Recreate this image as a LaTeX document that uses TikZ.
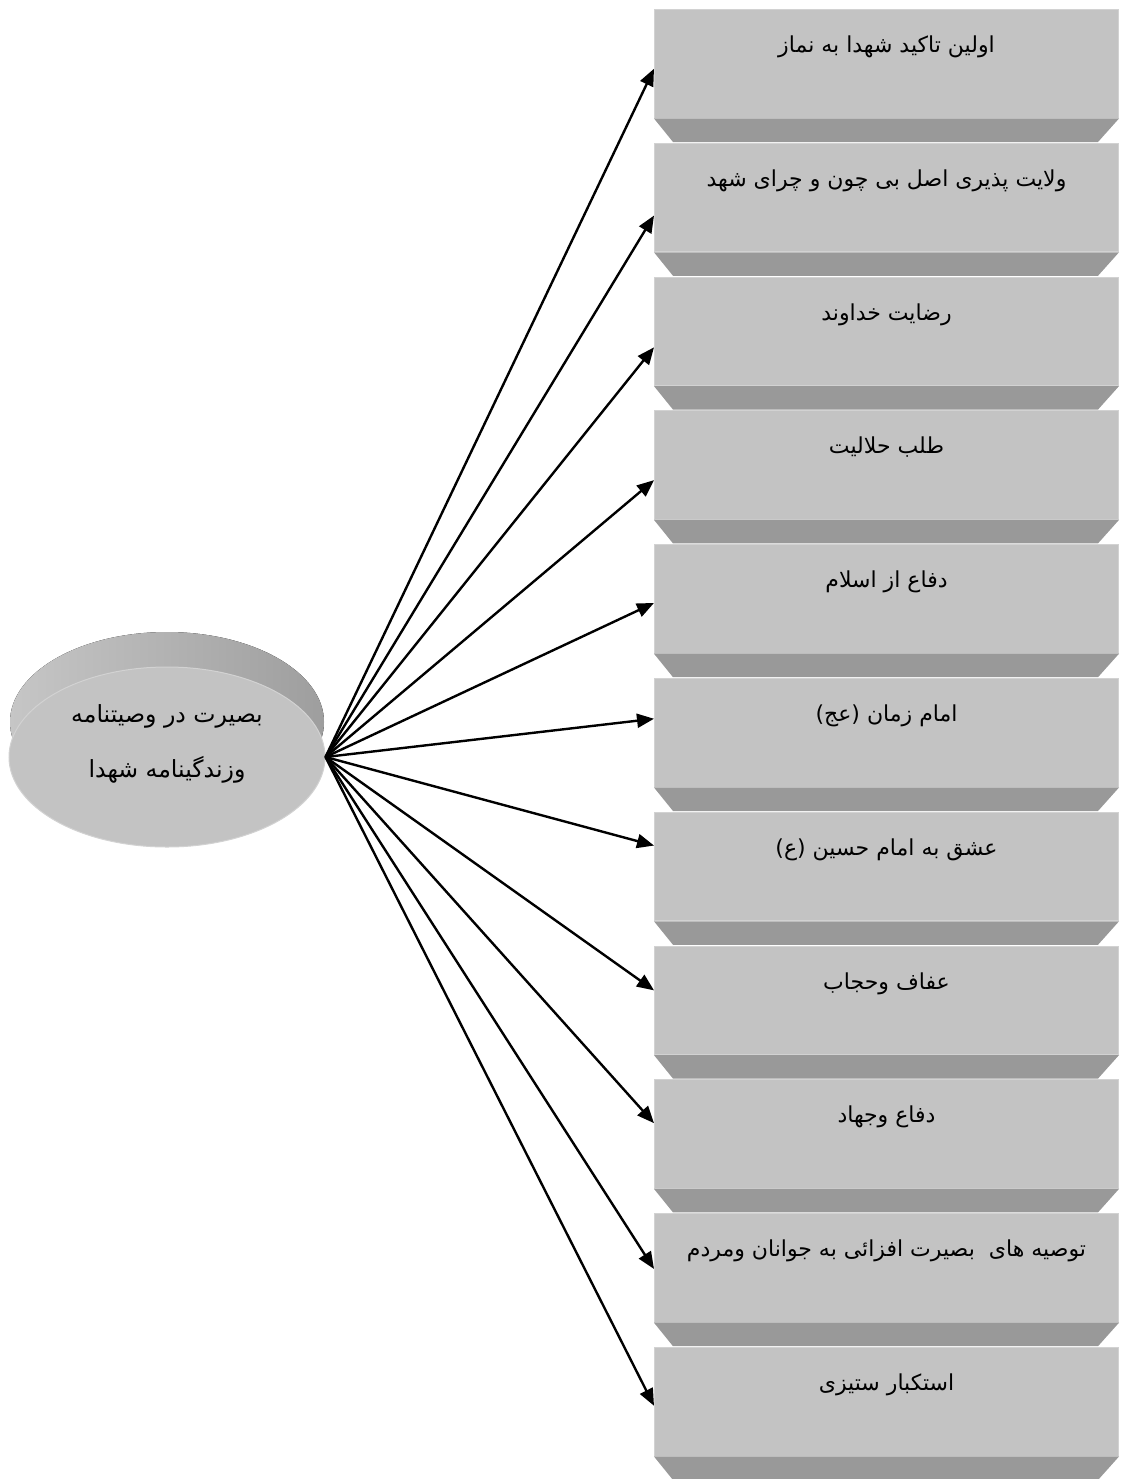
\documentclass[tikz,border=0pt]{standalone}
\usepackage{fontspec}
\newfontfamily\fa[Script=Arabic]{DejaVu Sans}
\TeXXeTstate=1
\usetikzlibrary{arrows.meta,calc,shapes.geometric}

\definecolor{face}{HTML}{C3C3C3}
\definecolor{edge}{HTML}{D2D2D2}
\definecolor{bevelgray}{HTML}{999999}
\definecolor{rimL}{HTML}{C6C6C6}
\definecolor{rimR}{HTML}{9E9E9E}

\begin{document}
\begin{tikzpicture}[x=0.5pt,y=-0.5pt,
  box/.style={rectangle,fill=face,draw=edge,line width=0.5pt,anchor=north west,
    minimum width=232pt,inner sep=0pt,text height=21.5pt,text depth=32.75pt,
    font=\fa\fontsize{11}{13}\selectfont},
  bevel/.style={fill=bevelgray},
  hub/.style={ellipse,fill=face,draw=edge,line width=0.5pt,
    minimum width=158pt,minimum height=90pt,inner sep=0pt},
  arr/.style={-{Triangle[length=8.5pt,width=7pt]},line width=1.2pt}]
\useasboundingbox (0,0) rectangle (1125,1479);

% centre ellipse with its rim
\fill[left color=rimL,right color=rimR] (167,722) ellipse [x radius=157, y radius=90];
\node[hub] (hub) at (167,757) {};
\node[align=center,font=\fa\fontsize{11.8}{27.5}\selectfont] (hubtxt) at (167,744)
  {\beginR بصیرت در وصیتنامه\endR\\ \beginR وزندگینامه شهدا\endR};

\foreach \i/\d/\txt in {
  1/5/{اولین تاکید شهدا به نماز},
  2/18/{ولایت پذیری اصل بی چون و چرای شهد},
  3/16/{رضایت خداوند},
  4/15/{طلب حلالیت},
  5/4/{دفاع از اسلام},
  6/-14/{امام زمان (عج)},
  7/-21/{عشق به امام حسین (ع)},
  8/-10/{عفاف وحجاب},
  9/-11/{دفاع وجهاد},
  10/1/{توصیه های \ بصیرت افزائی به جوانان ومردم},
  11/4/{استکبار ستیزی}}{
  \node[box] (b\i) at (654,{9+133.8*(\i-1)}) {\beginR\txt\endR};
  \fill[bevel] (b\i.south west) -- (b\i.south east) -- ++(-21,23.5)
    -- ($(b\i.south west)+(19,23.5)$) -- cycle;
  \draw[arr] (hub.east) -- ($(b\i.west)+(0,\d)$);
}
\end{tikzpicture}
\end{document}
